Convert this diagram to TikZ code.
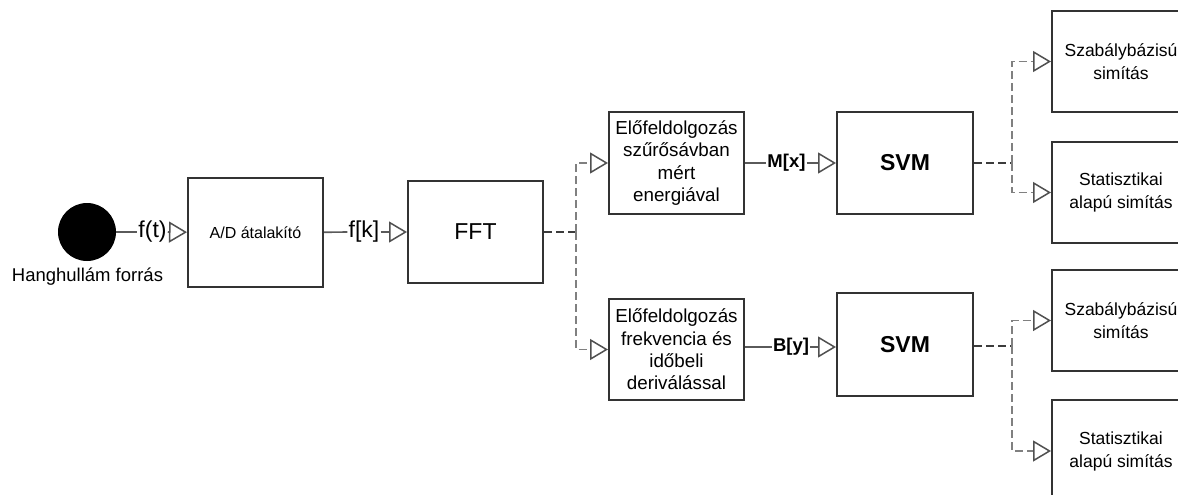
\documentclass[tikz,border=0pt]{standalone}
\usepackage{fontspec}
\setmainfont{Liberation Sans}
\usetikzlibrary{arrows.meta}
\definecolor{boxc}{HTML}{333333}
\definecolor{linec}{HTML}{5A5A5A}
\definecolor{dashd}{HTML}{3C3C3C}
\definecolor{dashl}{HTML}{808080}
\definecolor{tipc}{HTML}{505050}
\begin{document}
\begin{tikzpicture}[x=1pt,y=-1pt,
  blk/.style={draw=boxc, line width=2pt, minimum width=135pt, inner sep=0pt, align=center, text=black},
  lbl/.style={inner sep=1pt, text=black},
  tip/.style={-{Triangle[length=18pt,width=21pt,fill=white,color=tipc,line width=1.5pt]}},
  conn/.style={draw=linec, line width=1.7pt},
  dsh/.style={line width=1.9pt, dash pattern=on 8pt off 4pt},
  pre/.style={blk, font=\fontsize{18.8}{22.4}\selectfont},
  res/.style={blk, minimum width=138pt, font=\fontsize{17.5}{23}\selectfont},
  svmbox/.style={blk, minimum width=136pt, font=\fontsize{23}{27}\selectfont\bfseries},
  sig/.style={lbl, font=\fontsize{23}{27}\selectfont},
  bsig/.style={lbl, font=\fontsize{18.5}{22}\selectfont\bfseries}]
\useasboundingbox (0,0) rectangle (1178,495);
\clip (0,0) rectangle (1178,495);

% nodes
\node[circle, fill=black, minimum size=58pt, inner sep=0pt] (src) at (87,232) {};
\node[lbl, font=\fontsize{18.5}{22}\selectfont] (srcl) at (87.5,277) {Hanghullám forrás};
\node[sig] (ft) at (152.5,232) {f(t)};
\node[blk, minimum height=109pt, font=\fontsize{16}{19}\selectfont] (ad) at (255.5,232.5) {A/D átalakító};
\node[sig] (fk) at (364,232) {f[k]};
\node[blk, minimum height=102pt, font=\fontsize{23}{27}\selectfont] (fft) at (475.5,232) {FFT};
\coordinate (j1) at (576,232);
\node[pre, minimum height=102pt] (pre1) at (676.5,163) {Előfeldolgozás\\szűrősávban\\mért\\energiával};
\node[pre, minimum height=101pt] (pre2) at (676.5,349.5) {Előfeldolgozás\\frekvencia és\\időbeli\\deriválással};
\node[bsig] (Mx) at (786.5,163) {M[x]};
\node[bsig] (By) at (791,347) {B[y]};
\node[svmbox, minimum height=102pt] (svm1) at (905,163) {SVM};
\node[svmbox, minimum height=103pt] (svm2) at (905,344.5) {SVM};
\coordinate (j2) at (1012,163);
\coordinate (j3) at (1012,346);
\node[res, minimum height=101pt] (r1) at (1121,61.5) {Szabálybázisú\\simítás};
\node[res, minimum height=101pt] (r2) at (1121,192.5) {Statisztikai\\alapú simítás};
\node[res, minimum height=101pt] (r3) at (1121,320.5) {Szabálybázisú\\simítás};
\node[res, minimum height=102pt] (r4) at (1121,451) {Statisztikai\\alapú simítás};

% connectors
\draw[conn] (src) -- (ft);
\draw[conn, tip] (ft) -- (ad);
\draw[conn] (ad) -- (fk);
\draw[conn, tip] (fk) -- (fft);
\draw[dsh, draw=dashd] (fft) -- (j1);
\draw[dsh, draw=dashl, tip] (j1) |- (pre1);
\draw[dsh, draw=dashl, tip] (j1) |- (pre2);
\draw[conn] (pre1) -- (Mx);
\draw[conn, tip] (Mx) -- (svm1);
\draw[conn] (pre2.east |- By) -- (By);
\draw[conn, tip] (By) -- (svm2.west |- By);
\draw[dsh, draw=dashd] (svm1) -- (j2);
\draw[dsh, draw=dashl, tip] (j2) |- (r1);
\draw[dsh, draw=dashl, tip] (j2) |- (r2);
\draw[dsh, draw=dashd] (svm2.east |- j3) -- (j3);
\draw[dsh, draw=dashl, tip] (j3) |- (r3);
\draw[dsh, draw=dashl, tip] (j3) |- (r4);
\end{tikzpicture}
\end{document}
